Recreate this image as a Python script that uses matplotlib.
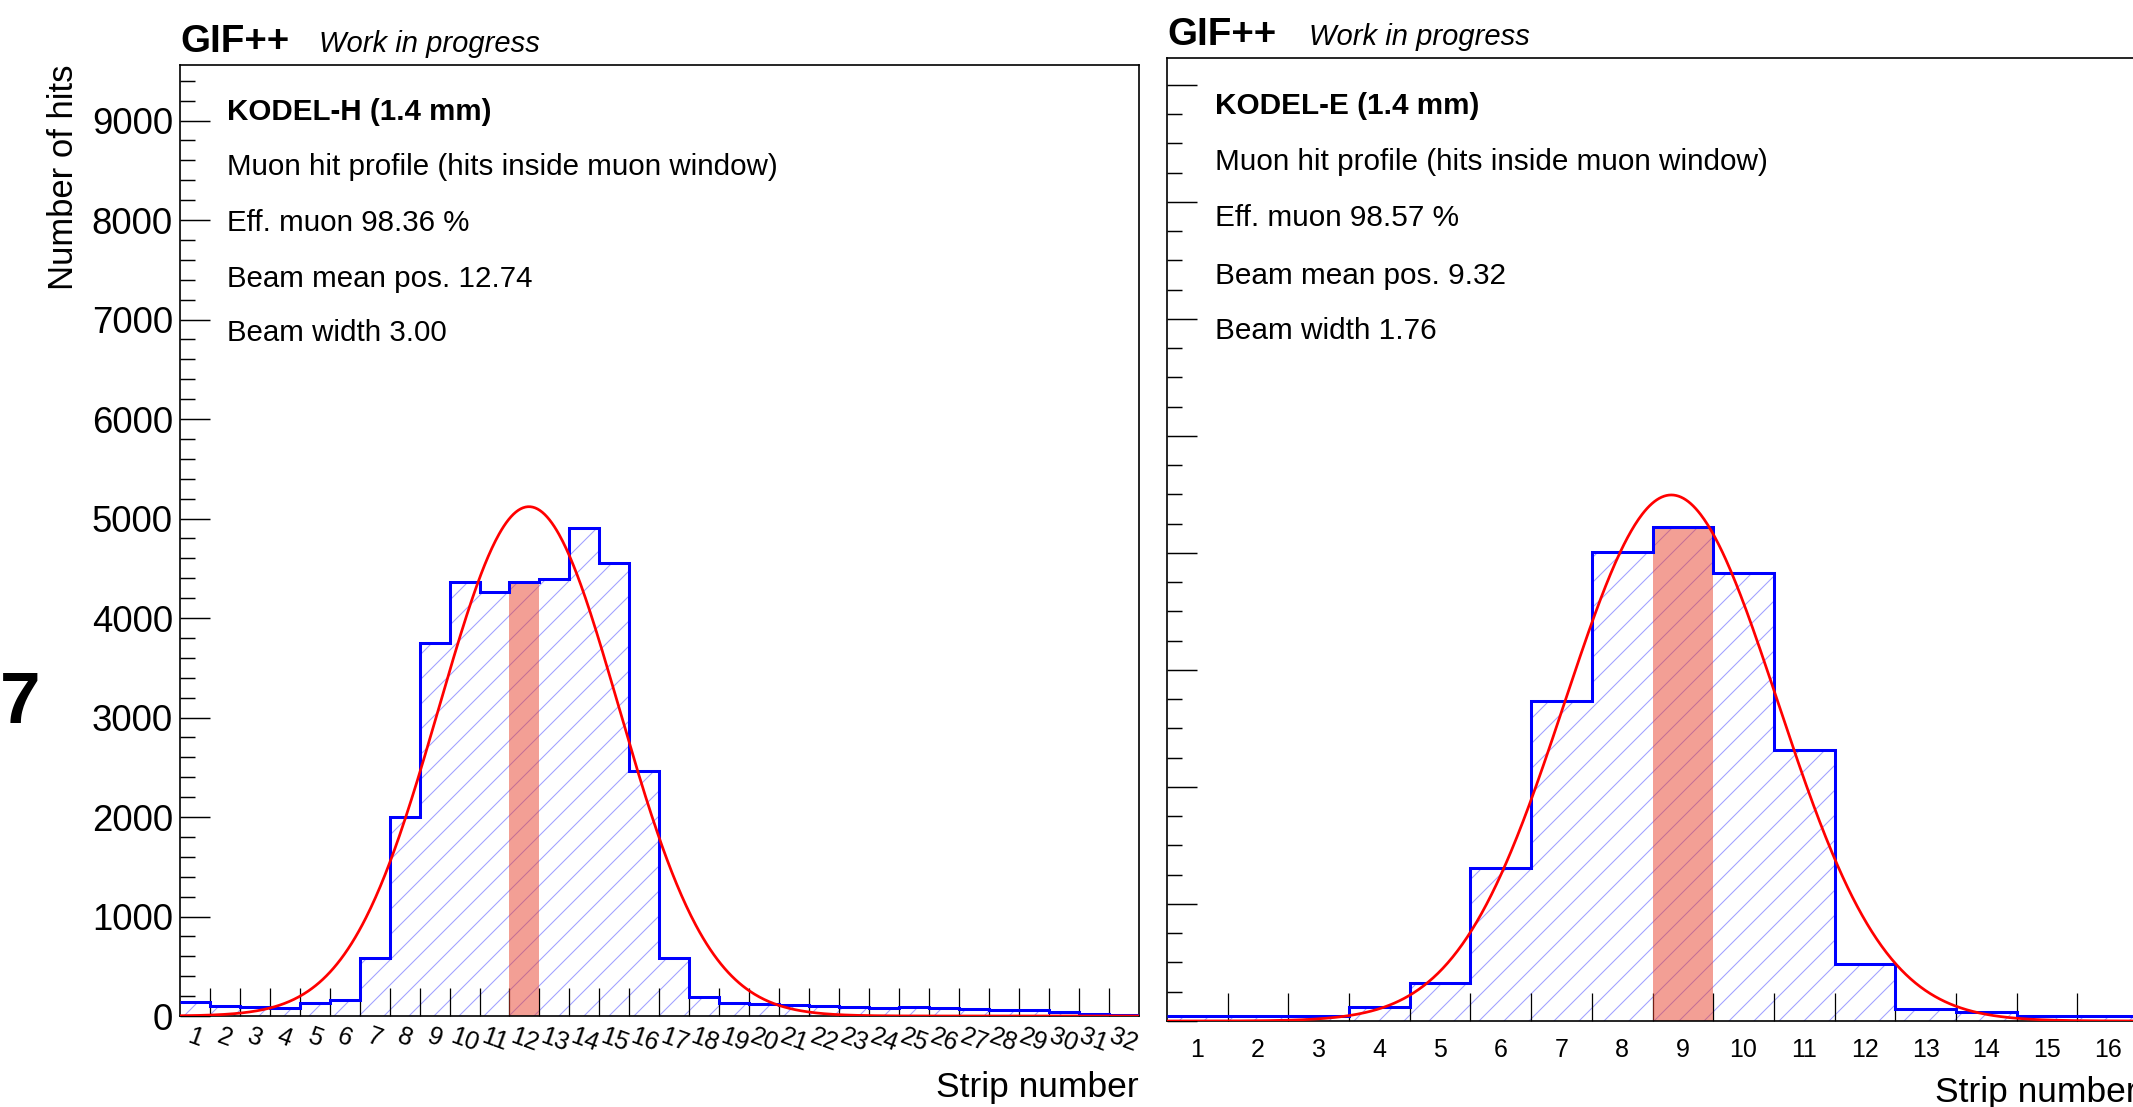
import numpy as np
import matplotlib
matplotlib.use('Agg')
import matplotlib.pyplot as plt
from matplotlib.ticker import MultipleLocator, FixedLocator, FixedFormatter, NullFormatter

plt.rcParams['font.family'] = ['Liberation Sans', 'DejaVu Sans']
plt.rcParams['hatch.linewidth'] = 0.5

# KODEL-H, 32 strips
strips_h = list(range(1, 33))
hits_h = [141, 104, 94, 77, 127, 161, 586, 2000, 3752, 4362, 4258, 4362, 4392, 4908, 4553, 2459,
          586, 194, 134, 118, 111, 101, 91, 77, 91, 77, 74, 64, 61, 40, 17, 14]
fit_h = [5119, 12.15, 3.0]  # amplitude, mean, sigma of the red gaussian fit
peak_strip_h = 12
text_h = ['KODEL-H (1.4 mm)', 'Muon hit profile (hits inside muon window)',
          'Eff. muon 98.36 %', 'Beam mean pos. 12.74', 'Beam width 3.00']

# KODEL-E, 16 strips
strips_e = list(range(1, 17))
hits_e = [45, 45, 45, 117, 322, 1311, 2735, 4006, 4220, 3832, 2316, 484, 103, 74, 45, 45]
fit_e = [4496, 8.81, 1.755]
peak_strip_e = 9
text_e = ['KODEL-E (1.4 mm)', 'Muon hit profile (hits inside muon window)',
          'Eff. muon 98.57 %', 'Beam mean pos. 9.32', 'Beam width 1.76']

W, H = 2133, 1107
fig = plt.figure(figsize=(W / 150, H / 150), dpi=150)


def box(x0, y0, x1, y1):
    # pixel box (top-left origin) -> figure fraction
    return [x0 / W, 1 - y1 / H, (x1 - x0) / W, (y1 - y0) / H]


def draw_panel(ax, strips, hits, fit, peak_strip, ymax, xlab_size, xlab_rot, xlab_pad):
    edges = np.arange(len(strips) + 1) + 0.5
    ax.stairs(hits, edges, fill=True, facecolor='none', edgecolor='#a0a0ff',
              hatch='//', linewidth=0, zorder=1)
    i = strips.index(peak_strip)
    ax.bar(peak_strip, hits[i], width=1, color='#e9412d', alpha=0.5, linewidth=0, zorder=2)
    ax.stairs(hits, edges, color='blue', linewidth=1.45, baseline=None, zorder=3)
    amp, mean, sigma = fit
    xs = np.linspace(edges[0], edges[-1], 800)
    ax.plot(xs, amp * np.exp(-0.5 * ((xs - mean) / sigma) ** 2), color='red', lw=1.3, zorder=4)

    ax.set_xlim(edges[0], edges[-1])
    ax.set_ylim(0, ymax)
    ax.xaxis.set_major_locator(FixedLocator(edges[1:-1]))
    ax.xaxis.set_major_formatter(NullFormatter())
    ax.xaxis.set_minor_locator(FixedLocator(strips))
    ax.xaxis.set_minor_formatter(FixedFormatter([str(s) for s in strips]))
    ax.tick_params(axis='x', which='major', direction='in', length=13.4, width=0.6)
    ax.tick_params(axis='x', which='minor', length=0, pad=xlab_pad,
                   labelsize=xlab_size, labelrotation=xlab_rot)
    ax.yaxis.set_major_locator(MultipleLocator(1000))
    ax.tick_params(axis='y', which='major', direction='in', length=14.2, width=0.7,
                   labelsize=17.5, pad=3.4)
    ax.tick_params(axis='y', which='minor', direction='in', length=7, width=0.7)
    for s in ax.spines.values():
        s.set_linewidth(0.8)


# left panel
ax1 = fig.add_axes(box(180, 65, 1138.5, 1016))
draw_panel(ax1, strips_h, hits_h, fit_h, peak_strip_h, 9558, 12, -20, 4)
ax1.yaxis.set_minor_locator(MultipleLocator(200))

# right panel (runs past the right edge of the picture)
ax2 = fig.add_axes(box(1167, 58.3, 2138, 1021))
draw_panel(ax2, strips_e, hits_e, fit_e, peak_strip_e, 8228, 12, 0, 8)
ax2.yaxis.set_minor_locator(MultipleLocator(250))
ax2.yaxis.set_major_formatter(NullFormatter())

# text boxes
for k, (a, b) in enumerate(zip(text_h, text_e)):
    w = 'bold' if k == 0 else 'normal'
    fig.text(227 / W, 1 - [111.7, 166.7, 222.7, 279, 333][k] / H, a,
             fontsize=14.2, fontweight=w, va='center', ha='left')
    fig.text(1214.6 / W, 1 - [106, 161.7, 218.3, 276, 331][k] / H, b,
             fontsize=14.3, fontweight=w, va='center', ha='left')

# headers
fig.text(180 / W, 1 - 51.7 / H, 'GIF++', fontsize=18.5, fontweight='bold', va='baseline')
fig.text(319 / W, 1 - 51.7 / H, 'Work in progress', fontsize=14, style='italic', va='baseline')
fig.text(1167 / W, 1 - 45 / H, 'GIF++', fontsize=18.5, fontweight='bold', va='baseline')
fig.text(1308.6 / W, 1 - 45 / H, 'Work in progress', fontsize=14, style='italic', va='baseline')

# axis titles
fig.text(63.5 / W, 1 - 65 / H, 'Number of hits', rotation=90, ha='center', va='top', fontsize=16.6)
fig.text(1138.5 / W, 1 - 1097 / H, 'Strip number', ha='right', va='baseline', fontsize=17)
fig.text(2138 / W, 1 - 1102 / H, 'Strip number', ha='right', va='baseline', fontsize=17)

# panel label at the far left
fig.text(0, 1 - 723 / H, '7', ha='left', va='baseline', fontsize=35, fontweight='bold')

fig.savefig('out.png', dpi=150)
